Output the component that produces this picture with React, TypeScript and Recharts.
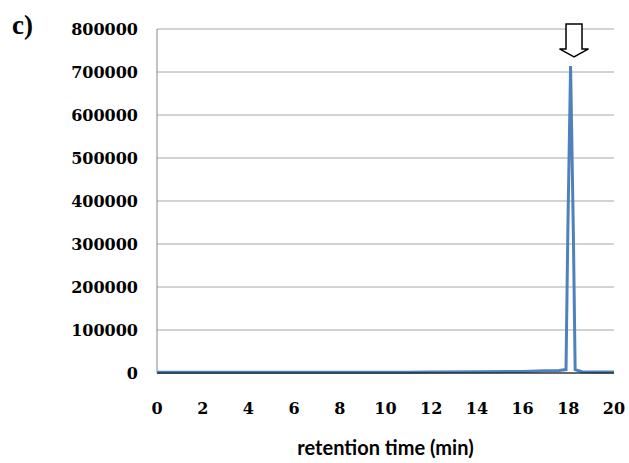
import React from 'react';
import { LineChart, Line, XAxis, YAxis, CartesianGrid, ReferenceDot } from 'recharts';

const times = [0, 2, 4, 6, 8, 10, 11, 12, 14, 16, 17, 17.6, 17.9, 17.98, 18.1, 18.22, 18.3, 18.6, 19, 20];
const signal = [1500, 1500, 1500, 1500, 1500, 1500, 1800, 2500, 2800, 3500, 5000, 6000, 8000, 330000, 714000, 330000, 8000, 3000, 2500, 2500];
const xTicks = [0, 2, 4, 6, 8, 10, 12, 14, 16, 18, 20];
const yTicks = [0, 100000, 200000, 300000, 400000, 500000, 600000, 700000, 800000];
const arrowAt = { x: 18.25, y: 735000 };

const data = times.map((t, i) => ({ t, v: signal[i] }));

const tickFont = { fontFamily: 'DejaVu Serif', fontWeight: 'bold', fontSize: 16, fill: '#000' };

const Arrow = (props: any) => {
  const { cx, cy } = props;
  if (cx == null || cy == null) return null;
  const pts = [
    [cx, cy],
    [cx - 14.5, cy - 8],
    [cx - 8, cy - 8],
    [cx - 8, cy - 33],
    [cx + 8, cy - 33],
    [cx + 8, cy - 8],
    [cx + 14.5, cy - 8],
  ].map((p) => p.join(',')).join(' ');
  return <polygon points={pts} fill="#fff" stroke="#000" strokeWidth={1.5} />;
};

export default function App() {
  return (
    <div style={{ position: 'absolute', left: 0, top: 0, width: 629, height: 463, background: '#fff' }}>
      <div style={{ position: 'absolute', left: 12, top: 10, fontFamily: 'Liberation Serif', fontWeight: 'bold', fontSize: 27, lineHeight: '30px' }}>c)</div>
      <LineChart width={629} height={463} data={data} margin={{ top: 29, right: 15, bottom: 0, left: 0 }}>
        <CartesianGrid vertical={false} stroke="#a6a6a6" strokeWidth={1} />
        <XAxis
          dataKey="t"
          type="number"
          domain={[0, 20]}
          ticks={xTicks}
          height={90}
          tickSize={0}
          tickMargin={30}
          stroke="#000"
          tick={tickFont}
          label={{ value: 'retention time (min)', position: 'insideBottom', offset: 8, style: { fontFamily: 'Lato', fontWeight: 'bold', fontSize: 20, fill: '#000' } }}
        />
        <YAxis
          type="number"
          domain={[0, 800000]}
          ticks={yTicks}
          width={157}
          tickSize={0}
          tickMargin={19}
          stroke="#868686"
          tick={tickFont}
          interval={0}
        />
        <Line type="linear" dataKey="v" stroke="#4F81BD" strokeWidth={3} dot={false} isAnimationActive={false} />
        <ReferenceDot x={arrowAt.x} y={arrowAt.y} ifOverflow="visible" shape={Arrow} />
      </LineChart>
    </div>
  );
}
